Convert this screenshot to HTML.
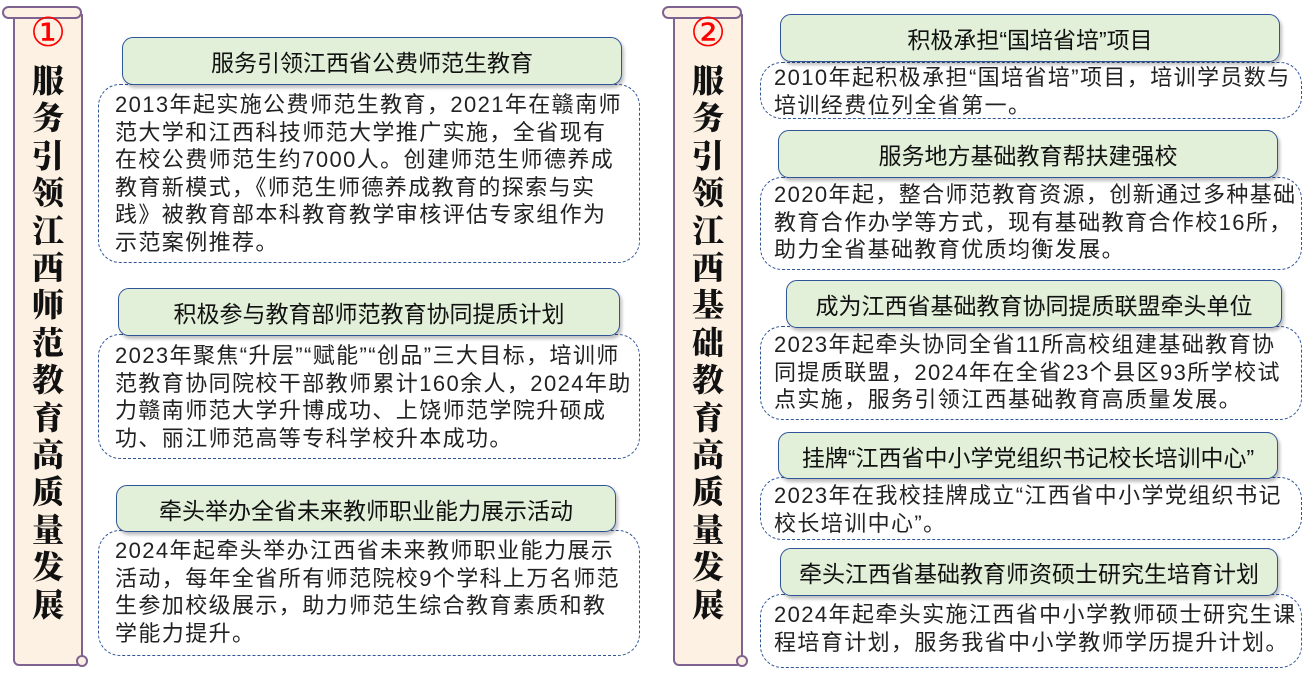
<!DOCTYPE html>
<html><head><meta charset="utf-8"><style>
body{margin:0;width:1305px;height:676px;background:#fff;position:relative;overflow:hidden;font-family:"Liberation Sans","Noto Sans CJK SC",sans-serif;}
.a{position:absolute;box-sizing:border-box}
.sb{background:#fdf1e3;border:2px solid #7e6390;border-top:none;border-radius:0 0 6px 6px}
.roll{background:#fdf1e3;border:2px solid #7e6390;border-radius:7px;height:13px}
.num{color:#ff0000;font-size:40px;text-align:center;font-family:"DejaVu Sans",sans-serif}
.vt{font-family:"Noto Serif CJK SC",serif;font-weight:900;font-size:32px;line-height:37.4px;text-align:center;color:#111;width:40px}
.t{background:#e2efd9;border:1.5px solid #2f5597;border-radius:11px;font-size:23px;color:#111;text-align:center;box-shadow:2px 3px 3px rgba(0,0,0,.25);display:flex;align-items:center;justify-content:center}
.d{border:1.5px dashed #2f5597;border-radius:22px;}
.x{font-size:22px;letter-spacing:1.4px;line-height:27.5px;color:#222;white-space:nowrap}
</style></head><body>
<div class="a sb" style="left:13px;top:14px;width:70px;height:652px"></div>
<div class="a roll" style="left:2px;top:6px;width:80px"></div>
<div class="a" style="left:76px;top:655px;width:12px;height:12px;border:2px solid #7e6390;border-radius:50%;background:#fdf1e3"></div>
<div class="a num" style="left:13px;top:10px;width:70px">①</div>
<div class="a vt" style="left:28px;top:61px">服<br>务<br>引<br>领<br>江<br>西<br>师<br>范<br>教<br>育<br>高<br>质<br>量<br>发<br>展</div>
<div class="a sb" style="left:673px;top:14px;width:70px;height:652px"></div>
<div class="a roll" style="left:662px;top:6px;width:80px"></div>
<div class="a" style="left:736px;top:655px;width:12px;height:12px;border:2px solid #7e6390;border-radius:50%;background:#fdf1e3"></div>
<div class="a num" style="left:673px;top:10px;width:70px">②</div>
<div class="a vt" style="left:688px;top:61px">服<br>务<br>引<br>领<br>江<br>西<br>基<br>础<br>教<br>育<br>高<br>质<br>量<br>发<br>展</div>

<div class="a d" style="left:98px;top:84px;width:542px;height:179px"></div>
<div class="a t" style="left:122px;top:37px;width:500px;height:48px">服务引领江西省公费师范生教育</div>
<div class="a x" style="left:115px;top:91px">2013年起实施公费师范生教育，2021年在赣南师<br>范大学和江西科技师范大学推广实施，全省现有<br>在校公费师范生约7000人。创建师范生师德养成<br>教育新模式，《师范生师德养成教育的探索与实<br>践》被教育部本科教育教学审核评估专家组作为<br>示范案例推荐。</div>

<div class="a d" style="left:98px;top:334px;width:542px;height:125px"></div>
<div class="a t" style="left:118px;top:288px;width:502px;height:48px">积极参与教育部师范教育协同提质计划</div>
<div class="a x" style="left:115px;top:342px">2023年聚焦“升层”“赋能”“创品”三大目标，培训师<br>范教育协同院校干部教师累计160余人，2024年助<br>力赣南师范大学升博成功、上饶师范学院升硕成<br>功、丽江师范高等专科学校升本成功。</div>

<div class="a d" style="left:98px;top:530px;width:542px;height:126px"></div>
<div class="a t" style="left:116px;top:485px;width:500px;height:47px">牵头举办全省未来教师职业能力展示活动</div>
<div class="a x" style="left:115px;top:537px">2024年起牵头举办江西省未来教师职业能力展示<br>活动，每年全省所有师范院校9个学科上万名师范<br>生参加校级展示，助力师范生综合教育素质和教<br>学能力提升。</div>

<div class="a d" style="left:760px;top:62px;width:542px;height:57px"></div>
<div class="a t" style="left:780px;top:14px;width:500px;height:48px">积极承担“国培省培”项目</div>
<div class="a x" style="left:774px;top:64px">2010年起积极承担“国培省培”项目，培训学员数与<br>培训经费位列全省第一。</div>

<div class="a d" style="left:760px;top:177px;width:542px;height:93px"></div>
<div class="a t" style="left:778px;top:130px;width:500px;height:48px">服务地方基础教育帮扶建强校</div>
<div class="a x" style="left:774px;top:181px">2020年起，整合师范教育资源，创新通过多种基础<br>教育合作办学等方式，现有基础教育合作校16所，<br>助力全省基础教育优质均衡发展。</div>

<div class="a d" style="left:760px;top:326px;width:542px;height:94px"></div>
<div class="a t" style="left:786px;top:280px;width:496px;height:48px">成为江西省基础教育协同提质联盟牵头单位</div>
<div class="a x" style="left:774px;top:331px">2023年起牵头协同全省11所高校组建基础教育协<br>同提质联盟，2024年在全省23个县区93所学校试<br>点实施，服务引领江西基础教育高质量发展。</div>

<div class="a d" style="left:760px;top:477px;width:542px;height:63px"></div>
<div class="a t" style="left:778px;top:432px;width:500px;height:47px">挂牌“江西省中小学党组织书记校长培训中心”</div>
<div class="a x" style="left:774px;top:482px">2023年在我校挂牌成立“江西省中小学党组织书记<br>校长培训中心”。</div>

<div class="a d" style="left:760px;top:594px;width:542px;height:74px"></div>
<div class="a t" style="left:780px;top:548px;width:498px;height:48px">牵头江西省基础教育师资硕士研究生培育计划</div>
<div class="a x" style="left:774px;top:601px">2024年起牵头实施江西省中小学教师硕士研究生课<br>程培育计划，服务我省中小学教师学历提升计划。</div>
</body></html>
